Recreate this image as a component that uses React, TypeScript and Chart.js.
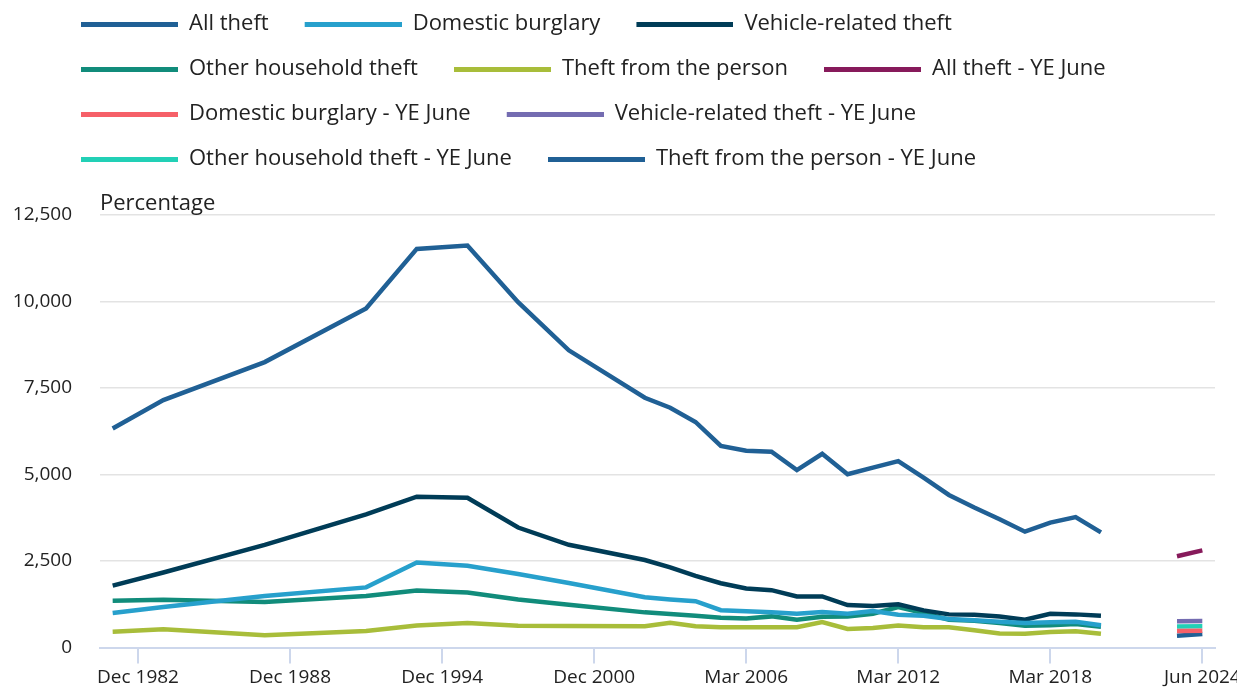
import React, { useEffect, useRef } from 'react';
import { Chart, registerables } from 'chart.js';

Chart.register(...registerables);

const N = null;

const labels = [
  'Dec 1981', 'Dec 1982', 'Dec 1983', 'Dec 1984', 'Dec 1985', 'Dec 1986', 'Dec 1987', 'Dec 1988',
  'Dec 1989', 'Dec 1990', 'Dec 1991', 'Dec 1992', 'Dec 1993', 'Dec 1994', 'Dec 1995', 'Dec 1996',
  'Dec 1997', 'Dec 1998', 'Dec 1999', 'Dec 2000', 'Dec 2001', 'Mar 2002', 'Mar 2003', 'Mar 2004',
  'Mar 2005', 'Mar 2006', 'Mar 2007', 'Mar 2008', 'Mar 2009', 'Mar 2010', 'Mar 2011', 'Mar 2012',
  'Mar 2013', 'Mar 2014', 'Mar 2015', 'Mar 2016', 'Mar 2017', 'Mar 2018', 'Mar 2019', 'Mar 2020',
  'Mar 2021', 'Mar 2022', 'Jun 2023', 'Jun 2024',
];

const allTheft = [
  6330, N, 7150, N, N, N, 8250, N, N, N, 9800, N, 11520, N, 11620, N, 9980, N, 8590, N, N,
  7220, 6930, 6520, 5830, 5690, 5660, 5130, 5600, 5010, 5200, 5390, 4910, 4410, 4050, 3710,
  3350, 3610, 3770, 3330, N, N, N, N,
];
const domesticBurglary = [
  1000, N, 1170, N, N, N, 1490, N, N, N, 1740, N, 2458, N, 2362, N, 2125, N, 1865, N, N,
  1455, 1390, 1340, 1080, 1050, 1020, 980, 1025, 980, 1060, 950, 922, 826, 790, 750,
  710, 730, 745, 645, N, N, N, N,
];
const vehicleTheft = [
  1790, N, 2170, N, N, N, 2970, N, N, N, 3850, N, 4360, N, 4330, N, 3470, N, 2970, N, N,
  2530, 2320, 2070, 1860, 1710, 1660, 1480, 1480, 1230, 1200, 1250, 1075, 960, 950, 900,
  806, 975, 960, 920, N, N, N, N,
];
const otherHousehold = [
  1354, N, 1382, N, N, N, 1320, N, N, N, 1490, N, 1650, N, 1590, N, 1390, N, 1240, N, N,
  1018, 970, 922, 865, 840, 902, 806, 890, 902, 979, 1170, 998, 806, 778, 710,
  634, 643, 680, 605, N, N, N, N,
];
const theftPerson = [
  460, N, 530, N, N, N, 360, N, N, N, 480, N, 640, N, 710, N, 634, N, 625, N, N,
  614, 720, 620, 590, 586, 586, 586, 740, 540, 566, 640, 586, 590, 500, 410,
  400, 450, 470, 400, N, N, N, N,
];

const ye = (a: number, b: number) => {
  const arr: (number | null)[] = labels.map(() => null);
  arr[42] = a;
  arr[43] = b;
  return arr;
};
const allTheftYE = ye(2640, 2810);
const domesticBurglaryYE = ye(480, 490);
const vehicleTheftYE = ye(760, 765);
const otherHouseholdYE = ye(612, 616);
const theftPersonYE = ye(340, 395);

const seriesNames = [
  'All theft', 'Domestic burglary', 'Vehicle-related theft', 'Other household theft', 'Theft from the person',
  'All theft - YE June', 'Domestic burglary - YE June', 'Vehicle-related theft - YE June',
  'Other household theft - YE June', 'Theft from the person - YE June',
];
const seriesData = [
  allTheft, domesticBurglary, vehicleTheft, otherHousehold, theftPerson,
  allTheftYE, domesticBurglaryYE, vehicleTheftYE, otherHouseholdYE, theftPersonYE,
];
const seriesColors = [
  '#206095', '#27a0cc', '#003c57', '#118c7b', '#a8bd3a',
  '#871a5b', '#f66068', '#746cb1', '#22d0b6', '#206095',
];

const yTicks = [0, 2500, 5000, 7500, 10000, 12500];

const TEXT = '#222222';
const FONT = "'Open Sans', 'Noto Sans', sans-serif";

const legendShift = {
  id: 'legendShift',
  afterLayout(chart: any) {
    if (chart.legend) chart.legend.left = 37;
  },
};

export default function App() {
  const ref = useRef<HTMLCanvasElement>(null);

  useEffect(() => {
    document.body.style.overflow = 'hidden';
    const swatches = seriesColors.map((color) => {
      const c = document.createElement('canvas');
      c.width = 110;
      c.height = 6;
      const g = c.getContext('2d')!;
      g.fillStyle = color;
      g.fillRect(13, 1, 97, 5);
      return c;
    });

    const chart = new Chart(ref.current!, {
      type: 'line',
      data: {
        labels,
        datasets: seriesData.map((d, i) => ({
          label: seriesNames[i],
          data: d,
          borderColor: seriesColors[i],
          backgroundColor: seriesColors[i],
          borderWidth: 4.5,
          pointRadius: 0,
          pointHoverRadius: 0,
          fill: false,
          spanGaps: true,
          tension: 0,
          borderCapStyle: 'butt',
        })),
      },
      plugins: [legendShift],
      options: {
        animation: false,
        responsive: true,
        maintainAspectRatio: false,
        events: [],
        font: { family: FONT },
        layout: { padding: { left: 0, top: -18, right: 30, bottom: 0 } },
        plugins: {
          tooltip: { enabled: false },
          legend: {
            display: true,
            position: 'top',
            align: 'start',
            labels: {
              usePointStyle: true,
              pointStyleWidth: 110,
              padding: 23,
              color: TEXT,
              font: { family: FONT, size: 22 },
              generateLabels: (c: any) => {
                const items = (Chart as any).defaults.plugins.legend.labels.generateLabels(c);
                return items.map((it: any) => ({ ...it, pointStyle: swatches[it.datasetIndex] }));
              },
            },
          },
          title: {
            display: true,
            text: 'Percentage',
            align: 'start',
            position: 'top',
            fullSize: false,
            weight: 500,
            color: TEXT,
            font: { family: FONT, size: 22, weight: 'normal', lineHeight: 1 },
            padding: { top: 13, bottom: 0 },
          },
        },
        scales: {
          x: {
            type: 'category',
            offset: true,
            afterFit: (s: any) => { s.height = 39; },
            grid: {
              display: true,
              drawOnChartArea: false,
              drawTicks: true,
              tickLength: 16,
              lineWidth: 2,
              color: '#cdd7ec',
            },
            border: { display: true, color: '#cdd7ec', width: 2 },
            ticks: {
              autoSkip: false,
              maxRotation: 0,
              minRotation: 0,
              padding: 3,
              color: TEXT,
              font: { family: FONT, size: 19 },
              callback: function (this: any, v: any, i: number) {
                return i % 6 === 1 ? this.getLabelForValue(v) : null;
              },
            },
          },
          y: {
            min: 0,
            max: 12500,
            afterFit: (s: any) => { s.width = 92; },
            afterBuildTicks: (s: any) => { s.ticks = yTicks.map((v) => ({ value: v })); },
            grid: { color: '#e3e3e3', lineWidth: 1.5, drawTicks: false },
            border: { display: false },
            ticks: {
              padding: 28,
              color: TEXT,
              font: { family: FONT, size: 19 },
              callback: (v: any) => Number(v).toLocaleString('en-US'),
            },
          },
        },
      },
    } as any);
    return () => chart.destroy();
  }, []);

  return (
    <div style={{ width: '1237px', height: '679px', position: 'relative' }}>
      <canvas ref={ref} />
    </div>
  );
}
